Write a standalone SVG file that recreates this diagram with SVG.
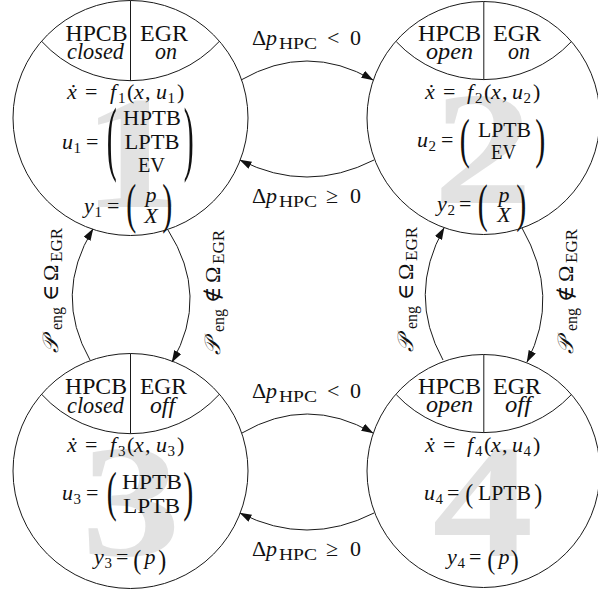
<svg xmlns="http://www.w3.org/2000/svg" width="598" height="592" viewBox="0 0 598 592">
<defs>
<style>
.ln { fill: none; stroke: #1a1a1a; stroke-width: 1; }
.f { font-family: "Liberation Serif", "DejaVu Serif", serif; fill: #111; }
.h { font-size: 24px; text-anchor: middle; }
.m { font-size: 22px; }
.c { text-anchor: middle; }
.i { font-style: italic; }
.s { font-size: 15px; }
.sl { font-size: 16px; }
.lab { font-size: 22px; }
.wm { font-family: "Liberation Serif", serif; font-weight: bold; font-size: 160px; fill: #e2e2e2; text-anchor: middle; }
.pb { font-size: 30px; }
.ps { font-size: 24px; }
</style>
<marker id="arr" viewBox="0 0 12 8" markerWidth="12" markerHeight="8" refX="11.5" refY="4" orient="auto" markerUnits="userSpaceOnUse">
<path d="M0,0 L12,4 L0,8 Z" fill="#111"/>
</marker>
</defs>
<rect width="598" height="592" fill="#ffffff"/>

<g id="node1">
<text class="wm" transform="translate(132,207) scale(1.25,1)">1</text>
<circle class="ln" cx="130.5" cy="118" r="117.5"/>
<path class="ln" d="M42,41.7 A120,120 0 0 0 219,41.7 M130.5,0.5 V80.7"/>
<text class="f h" x="96.5" y="41" textLength="62" lengthAdjust="spacingAndGlyphs">HPCB</text>
<text class="f h" x="164" y="41" textLength="48" lengthAdjust="spacingAndGlyphs">EGR</text>
<text class="f h i" x="95.5" y="59" textLength="57" lengthAdjust="spacingAndGlyphs">closed</text>
<text class="f h i" x="166" y="59" textLength="22" lengthAdjust="spacingAndGlyphs">on</text>
<text class="f m" y="99"><tspan class="i" x="67">ẋ</tspan><tspan x="85">=</tspan><tspan class="i" x="110">f</tspan><tspan class="s" x="118" y="103">1</tspan><tspan x="127" y="99">(</tspan><tspan class="i" x="134">x</tspan><tspan x="145">,</tspan><tspan class="i" x="156">u</tspan><tspan class="s" x="167.5" y="103">1</tspan><tspan x="177" y="99">)</tspan></text>
<text class="f m" y="149"><tspan class="i" x="62">u</tspan><tspan class="s" x="73.5" y="153">1</tspan><tspan x="86" y="149">=</tspan></text>
<text class="f pb" transform="matrix(1,0,0,2.734,106.7,165.4)">(</text>
<text class="f pb" transform="matrix(1,0,0,2.734,183.8,165.4)">)</text>
<text class="f m c" x="152" y="125" textLength="58" lengthAdjust="spacingAndGlyphs">HPTB</text>
<text class="f m c" x="152" y="149" textLength="55" lengthAdjust="spacingAndGlyphs">LPTB</text>
<text class="f m c" x="151.5" y="172" textLength="27" lengthAdjust="spacingAndGlyphs">EV</text>
<text class="f m" y="213"><tspan class="i" x="84">y</tspan><tspan class="s" x="94.5" y="217">1</tspan><tspan x="107" y="213">=</tspan></text>
<text class="f pb" transform="matrix(1,0,0,1.836,126.2,222.2)">(</text>
<text class="f pb" transform="matrix(1,0,0,1.836,162.3,222.2)">)</text>
<text class="f m c i" x="151" y="202">p</text>
<text class="f m c i" x="151" y="223">X</text>
</g>

<g id="node2">
<text class="wm" transform="translate(483,203) scale(1.25,1)">2</text>
<circle class="ln" cx="483.5" cy="118" r="116.5"/>
<path class="ln" d="M396.3,41.7 A120,120 0 0 0 571.3,41.7 M483.8,1.5 V79.6"/>
<text class="f h" x="449.5" y="41" textLength="63" lengthAdjust="spacingAndGlyphs">HPCB</text>
<text class="f h" x="517" y="41" textLength="48" lengthAdjust="spacingAndGlyphs">EGR</text>
<text class="f h i" x="449.5" y="59" textLength="47" lengthAdjust="spacingAndGlyphs">open</text>
<text class="f h i" x="519" y="59" textLength="22" lengthAdjust="spacingAndGlyphs">on</text>
<text class="f m" y="99"><tspan class="i" x="425">ẋ</tspan><tspan x="443">=</tspan><tspan class="i" x="467">f</tspan><tspan class="s" x="475" y="103">2</tspan><tspan x="484" y="99">(</tspan><tspan class="i" x="491">x</tspan><tspan x="502">,</tspan><tspan class="i" x="512">u</tspan><tspan class="s" x="523.5" y="103">2</tspan><tspan x="533" y="99">)</tspan></text>
<text class="f m" y="147"><tspan class="i" x="417">u</tspan><tspan class="s" x="428.5" y="151">2</tspan><tspan x="441" y="147">=</tspan></text>
<text class="f pb" transform="matrix(1,0,0,1.836,459.7,157.2)">(</text>
<text class="f pb" transform="matrix(1,0,0,1.836,535.3,157.2)">)</text>
<text class="f m c" x="504.5" y="137" textLength="53" lengthAdjust="spacingAndGlyphs">LPTB</text>
<text class="f m c" x="503.5" y="159" textLength="25" lengthAdjust="spacingAndGlyphs">EV</text>
<text class="f m" y="211"><tspan class="i" x="437">y</tspan><tspan class="s" x="447.5" y="215">2</tspan><tspan x="459" y="211">=</tspan></text>
<text class="f pb" transform="matrix(1,0,0,1.758,477.7,220.6)">(</text>
<text class="f pb" transform="matrix(1,0,0,1.758,516.3,220.6)">)</text>
<text class="f m c i" x="504" y="202">p</text>
<text class="f m c i" x="504" y="222">X</text>
</g>

<g id="node3">
<text class="wm" transform="translate(131,555) scale(1.25,1)">3</text>
<circle class="ln" cx="130.5" cy="471" r="117.5"/>
<path class="ln" d="M42,394.7 A120,120 0 0 0 219,394.7 M130.5,353.5 V433.7"/>
<text class="f h" x="96" y="394" textLength="62" lengthAdjust="spacingAndGlyphs">HPCB</text>
<text class="f h" x="163.5" y="394" textLength="47" lengthAdjust="spacingAndGlyphs">EGR</text>
<text class="f h i" x="95.5" y="413" textLength="57" lengthAdjust="spacingAndGlyphs">closed</text>
<text class="f h i" x="162.5" y="413" textLength="25" lengthAdjust="spacingAndGlyphs">off</text>
<text class="f m" y="452"><tspan class="i" x="67">ẋ</tspan><tspan x="85">=</tspan><tspan class="i" x="110">f</tspan><tspan class="s" x="118" y="456">3</tspan><tspan x="127" y="452">(</tspan><tspan class="i" x="134">x</tspan><tspan x="145">,</tspan><tspan class="i" x="156">u</tspan><tspan class="s" x="167.5" y="456">3</tspan><tspan x="177" y="452">)</tspan></text>
<text class="f m" y="500"><tspan class="i" x="62">u</tspan><tspan class="s" x="73.5" y="504">3</tspan><tspan x="86" y="500">=</tspan></text>
<text class="f pb" transform="matrix(1,0,0,1.797,106.7,510.4)">(</text>
<text class="f pb" transform="matrix(1,0,0,1.797,183.3,510.4)">)</text>
<text class="f m c" x="152" y="489" textLength="60" lengthAdjust="spacingAndGlyphs">HPTB</text>
<text class="f m c" x="151.5" y="513" textLength="57" lengthAdjust="spacingAndGlyphs">LPTB</text>
<text class="f m" y="564"><tspan class="i" x="94">y</tspan><tspan class="s" x="104.5" y="568">3</tspan><tspan x="116" y="564">=</tspan></text>
<text class="f ps" transform="matrix(1,0,0,1.12,133.3,569.2)">(</text>
<text class="f ps" transform="matrix(1,0,0,1.12,158.2,569.2)">)</text>
<text class="f m i" x="144.5" y="564">p</text>
</g>

<g id="node4">
<text class="wm" transform="translate(483,556) scale(1.25,1)" style="font-size:162px">4</text>
<circle class="ln" cx="483.5" cy="471" r="116.5"/>
<path class="ln" d="M396.3,394.7 A120,120 0 0 0 571.3,394.7 M483.8,354.5 V432.6"/>
<text class="f h" x="449.5" y="394" textLength="63" lengthAdjust="spacingAndGlyphs">HPCB</text>
<text class="f h" x="517" y="394" textLength="48" lengthAdjust="spacingAndGlyphs">EGR</text>
<text class="f h i" x="449.5" y="412" textLength="47" lengthAdjust="spacingAndGlyphs">open</text>
<text class="f h i" x="518" y="412" textLength="26" lengthAdjust="spacingAndGlyphs">off</text>
<text class="f m" y="452"><tspan class="i" x="425">ẋ</tspan><tspan x="443">=</tspan><tspan class="i" x="467">f</tspan><tspan class="s" x="475" y="456">4</tspan><tspan x="484" y="452">(</tspan><tspan class="i" x="491">x</tspan><tspan x="502">,</tspan><tspan class="i" x="512">u</tspan><tspan class="s" x="523.5" y="456">4</tspan><tspan x="533" y="452">)</tspan></text>
<text class="f m" y="500"><tspan class="i" x="424">u</tspan><tspan class="s" x="435.5" y="504">4</tspan><tspan x="447" y="500">=</tspan></text>
<text class="f ps" transform="matrix(1,0,0,1.12,465.3,503.2)">(</text>
<text class="f ps" transform="matrix(1,0,0,1.12,534.2,503.2)">)</text>
<text class="f m c" x="504.5" y="500" textLength="53" lengthAdjust="spacingAndGlyphs">LPTB</text>
<text class="f m" y="564"><tspan class="i" x="447">y</tspan><tspan class="s" x="457.5" y="568">4</tspan><tspan x="469" y="564">=</tspan></text>
<text class="f ps" transform="matrix(1,0,0,1.12,487.3,569.2)">(</text>
<text class="f ps" transform="matrix(1,0,0,1.12,510.7,569.2)">)</text>
<text class="f m i" x="498.5" y="564">p</text>
</g>

<g id="connectors">
<path class="ln" marker-end="url(#arr)" d="M241,80 Q307,42 373,80"/>
<path class="ln" marker-end="url(#arr)" d="M374,160 Q307,194 240,160"/>
<path class="ln" marker-end="url(#arr)" d="M242,433 Q307,395 373,433"/>
<path class="ln" marker-end="url(#arr)" d="M374,513 Q307,547 240,513"/>
<path class="ln" marker-end="url(#arr)" d="M90,360 Q53,295 93,229"/>
<path class="ln" marker-end="url(#arr)" d="M168,230 Q210,296 172,362"/>
<path class="ln" marker-end="url(#arr)" d="M443,360 Q407,295 444,228"/>
<path class="ln" marker-end="url(#arr)" d="M522,228 Q561,296 527,362"/>
<g id="edge-labels">
<text class="f m" y="45"><tspan x="252">Δ</tspan><tspan class="i" x="266">p</tspan><tspan class="sl" x="279" y="49" textLength="38" lengthAdjust="spacingAndGlyphs">HPC</tspan><tspan x="327" y="45">&lt;</tspan><tspan x="350">0</tspan></text>
<text class="f m" y="203"><tspan x="252">Δ</tspan><tspan class="i" x="266">p</tspan><tspan class="sl" x="279" y="207" textLength="38" lengthAdjust="spacingAndGlyphs">HPC</tspan><tspan x="326" y="203">≥</tspan><tspan x="350">0</tspan></text>
<text class="f m" y="398"><tspan x="252">Δ</tspan><tspan class="i" x="266">p</tspan><tspan class="sl" x="279" y="402" textLength="38" lengthAdjust="spacingAndGlyphs">HPC</tspan><tspan x="327" y="398">&lt;</tspan><tspan x="350">0</tspan></text>
<text class="f m" y="556"><tspan x="252">Δ</tspan><tspan class="i" x="266">p</tspan><tspan class="sl" x="279" y="560" textLength="38" lengthAdjust="spacingAndGlyphs">HPC</tspan><tspan x="326" y="556">≥</tspan><tspan x="350">0</tspan></text>
<text class="f lab" transform="translate(58,353) rotate(-90)"><tspan class="i" x="0" y="0">𝒫</tspan><tspan class="sl" x="23" y="4">eng</tspan><tspan x="52" y="0">∈</tspan><tspan x="72">Ω</tspan><tspan class="sl" x="91" y="4" textLength="34" lengthAdjust="spacingAndGlyphs">EGR</tspan></text>
<text class="f lab" transform="translate(220,355) rotate(-90)"><tspan class="i" x="0" y="0">𝒫</tspan><tspan class="sl" x="23" y="4">eng</tspan><tspan x="52" y="0">∉</tspan><tspan x="72">Ω</tspan><tspan class="sl" x="91" y="4" textLength="34" lengthAdjust="spacingAndGlyphs">EGR</tspan></text>
<text class="f lab" transform="translate(413,352) rotate(-90)"><tspan class="i" x="0" y="0">𝒫</tspan><tspan class="sl" x="23" y="4">eng</tspan><tspan x="52" y="0">∈</tspan><tspan x="72">Ω</tspan><tspan class="sl" x="91" y="4" textLength="34" lengthAdjust="spacingAndGlyphs">EGR</tspan></text>
<text class="f lab" transform="translate(573,354) rotate(-90)"><tspan class="i" x="0" y="0">𝒫</tspan><tspan class="sl" x="23" y="4">eng</tspan><tspan x="52" y="0">∉</tspan><tspan x="72">Ω</tspan><tspan class="sl" x="91" y="4" textLength="34" lengthAdjust="spacingAndGlyphs">EGR</tspan></text>
</g>
</g>
</svg>
